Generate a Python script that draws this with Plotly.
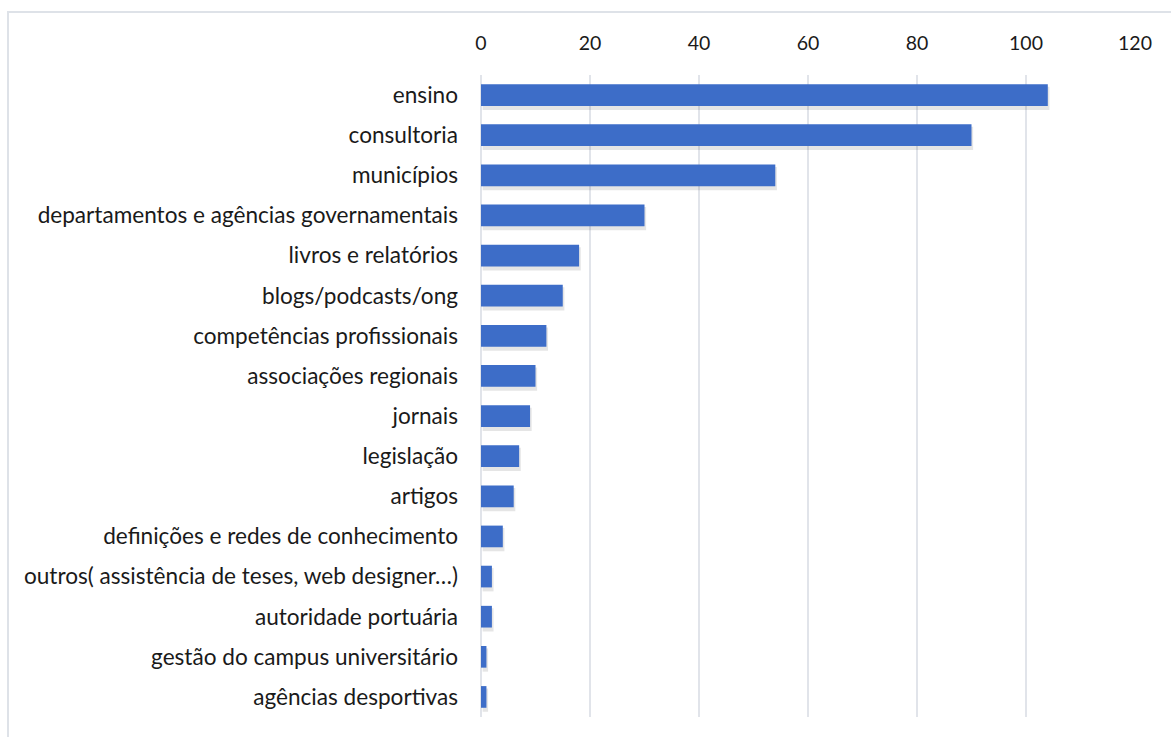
import plotly.graph_objects as go

categories = [
    "ensino",
    "consultoria",
    "municípios",
    "departamentos e agências governamentais",
    "livros e relatórios",
    "blogs/podcasts/ong",
    "competências profissionais",
    "associações regionais",
    "jornais",
    "legislação",
    "artigos",
    "definições e redes de conhecimento",
    "outros( assistência de teses, web designer…)",
    "autoridade portuária",
    "gestão do campus universitário",
    "agências desportivas",
]
values = [104, 90, 54, 30, 18, 15, 12, 10, 9, 7, 6, 4, 2, 2, 1, 1]
x_ticks = [0, 20, 40, 60, 80, 100, 120]

FONT = "Lato"
W, H = 1171, 737
L, R, T, B = 481, 36, 75, 20
pw, ph = W - L - R, H - T - B

fig = go.Figure()
# soft shadow
fig.add_trace(go.Bar(
    y=categories, x=values, orientation="h",
    marker=dict(color="rgba(0,0,0,0.10)", line=dict(width=0)),
    width=0.58, offset=-0.21, base=0.3,
    hoverinfo="skip", showlegend=False,
))
fig.add_trace(go.Bar(
    y=categories, x=values, orientation="h",
    marker=dict(color="#3D6DC8", line=dict(width=0)),
    width=0.54, offset=-0.27,
    showlegend=False,
))

fig.update_layout(
    width=W, height=H,
    margin=dict(l=L, r=R, t=T, b=B, pad=0),
    paper_bgcolor="white", plot_bgcolor="white",
    barmode="overlay",
    font=dict(family=FONT, size=19, color="#1a1a1a"),
    xaxis=dict(
        side="top", range=[0, 120], tickvals=x_ticks,
        showgrid=True, gridcolor="#E1E4EA", gridwidth=2,
        zeroline=True, zerolinecolor="#E1E4EA", zerolinewidth=2,
        showline=False, ticks="", ticklabelstandoff=20,
        tickfont=dict(family=FONT, size=19.5, color="#1a1a1a"),
    ),
    yaxis=dict(
        autorange="reversed", showgrid=False, zeroline=False,
        showline=False, ticks="", ticklabelstandoff=22,
        tickfont=dict(family=FONT, size=22.6, color="#1a1a1a"),
    ),
    shapes=[dict(
        type="rect", xref="paper", yref="paper",
        x0=(8 - L) / pw, x1=(W + 5 - L) / pw,
        y0=-(B + 5) / ph, y1=1 + (T - 12) / ph,
        line=dict(color="#DEE2E8", width=2), fillcolor="rgba(0,0,0,0)",
        layer="below",
    )],
)

fig.write_html("out.html")
